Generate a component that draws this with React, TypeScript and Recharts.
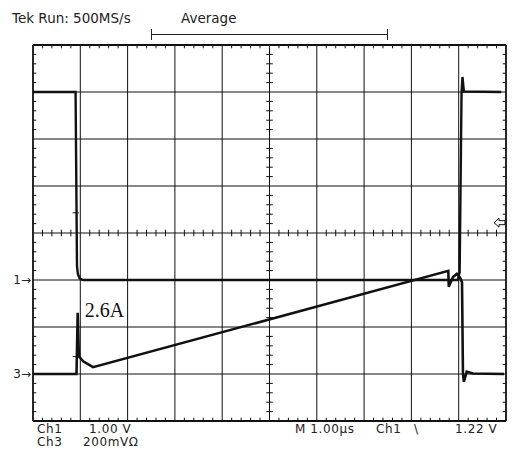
import { LineChart, Line, XAxis, YAxis, ReferenceLine, ReferenceDot } from "recharts";

// Tek capture: 1 µs/div, Ch1 gate drive (1 V/div), Ch3 switch current (200 mV over 0.1 Ω => 2 A/div)
const ch1Time = [0, 0.9, 0.93, 0.95, 0.99, 1.06, 8.98, 9.02, 9.06, 9.08, 9.11, 9.9];
const ch1Volts = [4.0, 4.0, 0.3, 0.12, 0.03, 0, 0, 0.17, 3.97, 4.32, 4.01, 4.0];

const ch3PeakAmps = 2.6;
const ch3Time = [0, 0.92, 0.945, 0.97, 1.06, 1.27, 8.78, 8.79, 8.88, 8.96, 9.03, 9.07, 9.09, 9.11, 9.17, 9.3, 9.96];
const ch3Amps = [0, 0, ch3PeakAmps, 0.75, 0.54, 0.29, 4.39, 3.71, 4.13, 4.26, 4.1, 3.9, 0.0, -0.33, 0.1, 0.02, 0];

const xDivs = [0, 1, 2, 3, 4, 5, 6, 7, 8, 9, 10];
const yDivs = [-4, -3, -2, -1, 0, 1, 2, 3, 4];

const CH1_V_PER_DIV = 1;
const CH1_POS = -1;
const CH3_A_PER_DIV = 2;
const CH3_POS = -3;
const TRIGGER_V = 1.22;

const W = 513;
const H = 450;
const TICK = 0.07;
const INK = "#111";
const FONT = "'DejaVu Sans', sans-serif";

const ch1Data = ch1Time.map((t, i) => ({ t, d: ch1Volts[i] / CH1_V_PER_DIV + CH1_POS }));
const ch3Data = ch3Time.map((t, i) => ({ t, d: ch3Amps[i] / CH3_A_PER_DIV + CH3_POS }));

// minor ticks every 1/5 division
const minorX: number[] = [];
for (let k = 1; k < 50; k++) if (k % 5) minorX.push(k / 5);
const minorY: number[] = [];
for (let k = 1; k < 40; k++) if (k % 5) minorY.push(k / 5 - 4);

const seg = (x1: number, y1: number, x2: number, y2: number) => [
  { x: x1, y: y1 },
  { x: x2, y: y2 },
];

const ChannelMark = (label: string) => (p: any) => (
  <text x={p.cx - 2} y={p.cy + 4} textAnchor="end" fontFamily={FONT} fontSize={12} fill="#222">
    {label}
  </text>
);

const TriggerArrow = (p: any) => {
  const x = p.cx - 1;
  const y = p.cy;
  return (
    <path
      d={`M${x - 11},${y} L${x - 6},${y - 4.5} L${x - 6},${y - 2} L${x},${y - 2} L${x},${y + 2} L${x - 6},${y + 2} L${x - 6},${y + 4.5} Z`}
      fill="#fff"
      stroke={INK}
      strokeWidth={1}
    />
  );
};

const PeakLabel = (p: any) => (
  <text x={p.cx + 7} y={p.cy + 4} fontFamily="'Liberation Serif', serif" fontSize={20} fill={INK}>
    {`${ch3PeakAmps}A`}
  </text>
);

export default function App() {
  return (
    <div style={{ position: "absolute", left: 0, top: 0, width: W, height: H, background: "#fff" }}>
      <LineChart width={W} height={H} margin={{ top: 45, right: 7, bottom: 29, left: 33 }}>
        <XAxis type="number" dataKey="t" domain={[0, 10]} hide allowDataOverflow />
        <YAxis type="number" dataKey="d" domain={[-4, 4]} hide allowDataOverflow />

        {xDivs.map((x) => (
          <ReferenceLine
            key={`vx${x}`}
            x={x}
            stroke={INK}
            strokeWidth={x === 0 || x === 10 ? 1.8 : 1}
          />
        ))}
        {yDivs.map((y) => (
          <ReferenceLine
            key={`hy${y}`}
            y={y}
            stroke={INK}
            strokeWidth={y === -4 || y === 4 ? 1.8 : 1}
          />
        ))}

        {minorX.map((x) => (
          <ReferenceLine key={`tt${x}`} segment={seg(x, 4, x, 4 - TICK)} stroke={INK} />
        ))}
        {minorX.map((x) => (
          <ReferenceLine key={`tb${x}`} segment={seg(x, -4, x, -4 + TICK)} stroke={INK} />
        ))}
        {minorX.map((x) => (
          <ReferenceLine key={`tc${x}`} segment={seg(x, -TICK, x, TICK)} stroke={INK} />
        ))}
        {minorY.map((y) => (
          <ReferenceLine key={`tl${y}`} segment={seg(0, y, TICK, y)} stroke={INK} />
        ))}
        {minorY.map((y) => (
          <ReferenceLine key={`tr${y}`} segment={seg(10, y, 10 - TICK, y)} stroke={INK} />
        ))}
        {minorY.map((y) => (
          <ReferenceLine key={`tm${y}`} segment={seg(5 - TICK, y, 5 + TICK, y)} stroke={INK} />
        ))}

        {/* level cursors on the edges */}
        <ReferenceLine segment={seg(0.84, 0.43, 0.97, 0.43)} stroke={INK} />
        <ReferenceLine segment={seg(0.84, -2.63, 0.97, -2.63)} stroke={INK} />

        <Line
          data={ch1Data}
          dataKey="d"
          type="linear"
          dot={false}
          stroke={INK}
          strokeWidth={2.4}
          isAnimationActive={false}
        />
        <Line
          data={ch3Data}
          dataKey="d"
          type="linear"
          dot={false}
          stroke={INK}
          strokeWidth={2.6}
          isAnimationActive={false}
        />

        <ReferenceDot x={0} y={CH1_POS} r={0} shape={ChannelMark("1\u2192")} ifOverflow="visible" />
        <ReferenceDot x={0} y={CH3_POS} r={0} shape={ChannelMark("3\u2192")} ifOverflow="visible" />
        <ReferenceDot
          x={10}
          y={TRIGGER_V / CH1_V_PER_DIV + CH1_POS}
          r={0}
          shape={TriggerArrow}
          ifOverflow="visible"
        />
        <ReferenceDot
          x={0.945}
          y={ch3PeakAmps / CH3_A_PER_DIV + CH3_POS}
          r={0}
          shape={PeakLabel}
          ifOverflow="visible"
        />
      </LineChart>

      <svg
        width={W}
        height={H}
        style={{ position: "absolute", left: 0, top: 0, pointerEvents: "none" }}
        fontFamily={FONT}
        fill="#222"
      >
        <g fontSize={13.5}>
          <text x={12} y={23}>Tek Run: 500MS/s</text>
          <text x={181} y={23}>Average</text>
        </g>
        <g stroke="#222" strokeWidth={1}>
          <line x1={151.5} y1={34.5} x2={387.5} y2={34.5} />
          <line x1={151.5} y1={29} x2={151.5} y2={40} />
          <line x1={387.5} y1={29} x2={387.5} y2={40} />
        </g>
        <g fontSize={12} letterSpacing={0.6}>
          <text x={37} y={433}>Ch1</text>
          <text x={89} y={433}>1.00 V</text>
          <text x={37} y={446}>Ch3</text>
          <text x={83} y={446}>200mV&#937;</text>
          <text x={295} y={433}>M 1.00µs</text>
          <text x={376} y={433}>Ch1</text>
          <text x={414} y={433}>\</text>
          <text x={455} y={433}>1.22 V</text>
        </g>
      </svg>
    </div>
  );
}
